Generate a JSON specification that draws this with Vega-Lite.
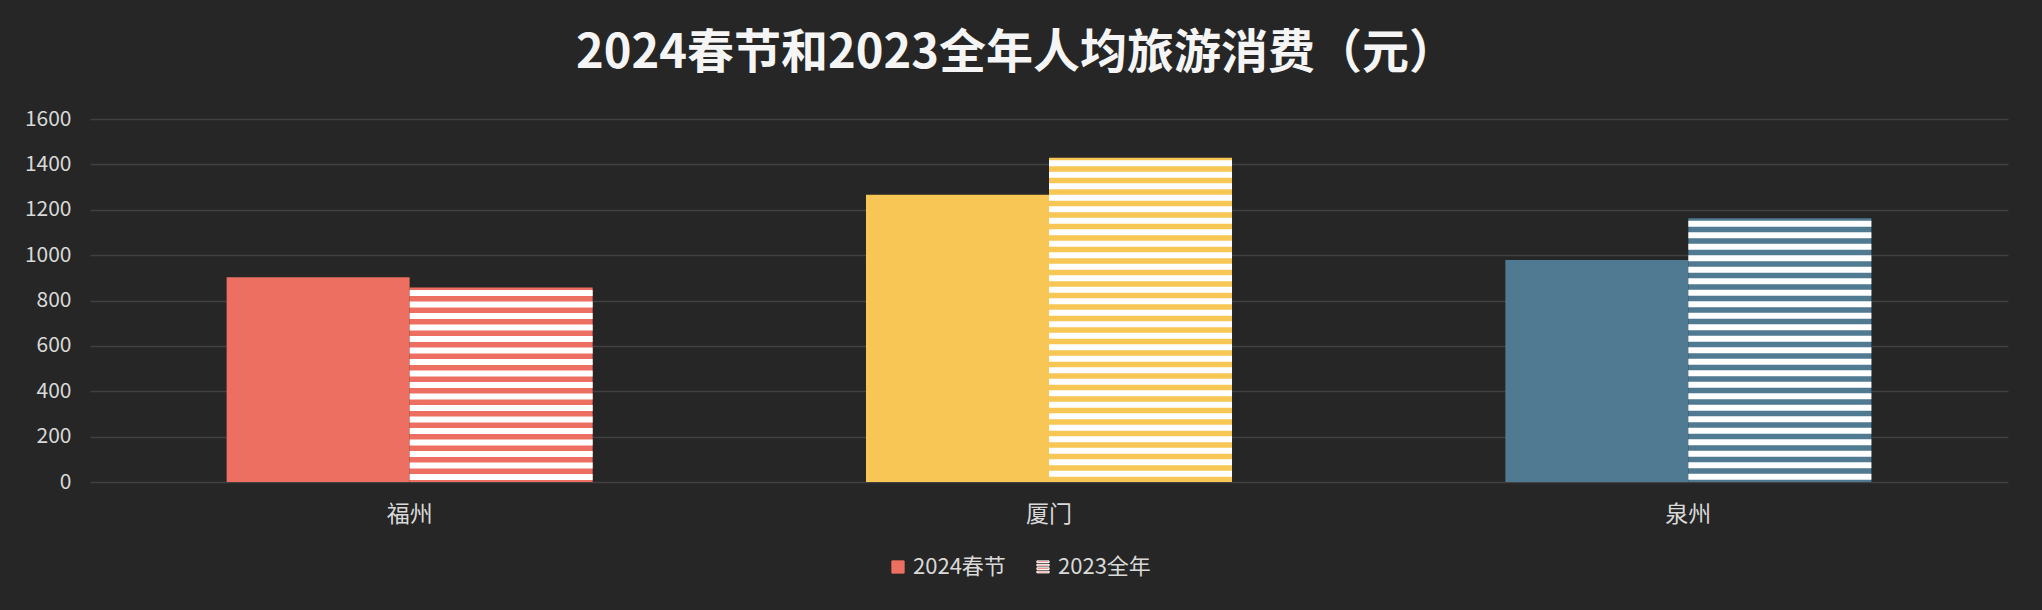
{
  "$schema": "https://vega.github.io/schema/vega-lite/v6.json",
  "autosize": "none",
  "width": 1918,
  "height": 363,
  "padding": {"left": 90, "top": 119, "right": 34, "bottom": 128},
  "background": "#262626",
  "title": {
    "text": "2024春节和2023全年人均旅游消费（元）",
    "font": "Noto Sans CJK SC",
    "fontSize": 47,
    "fontWeight": "bold",
    "color": "#f5f5f5",
    "anchor": "middle",
    "dx": -33,
    "dy": 58,
    "offset": 46
  },
  "data": {
    "values": [
      {"city": "福州", "series": "2024春节", "value": 903},
      {"city": "福州", "series": "2023全年", "value": 857},
      {"city": "厦门", "series": "2024春节", "value": 1266},
      {"city": "厦门", "series": "2023全年", "value": 1429},
      {"city": "泉州", "series": "2024春节", "value": 978},
      {"city": "泉州", "series": "2023全年", "value": 1163}
    ]
  },
  "encoding": {
    "x": {
      "field": "city",
      "type": "nominal",
      "sort": ["福州", "厦门", "泉州"],
      "scale": {"paddingInner": 0.4275, "paddingOuter": 0.2137},
      "axis": {
        "title": null,
        "domain": false,
        "ticks": false,
        "grid": false,
        "labelAngle": 0,
        "labelFont": "Noto Sans CJK SC",
        "labelFontSize": 23,
        "labelColor": "#d9d9d9",
        "labelPadding": 21
      }
    },
    "xOffset": {"field": "series", "type": "nominal", "sort": ["2024春节", "2023全年"]},
    "y": {
      "field": "value",
      "type": "quantitative",
      "scale": {"domain": [0, 1600], "nice": false},
      "axis": {
        "title": null,
        "domain": false,
        "ticks": false,
        "format": "d",
        "values": [0, 200, 400, 600, 800, 1000, 1200, 1400, 1600],
        "grid": true,
        "gridColor": "#404040",
        "gridWidth": 1.6,
        "labelFont": "Noto Sans CJK SC",
        "labelFontSize": 21,
        "labelColor": "#d9d9d9",
        "labelPadding": 19
      }
    }
  },
  "layer": [
    {
      "mark": {"type": "bar"},
      "encoding": {
        "color": {
          "field": "city",
          "type": "nominal",
          "scale": {"domain": ["福州", "厦门", "泉州"], "range": ["#EC6F61", "#F7C655", "#4F7A91"]},
          "legend": null
        }
      }
    },
    {
      "transform": [{"filter": "datum.series === '2023全年'"}],
      "mark": {"type": "rule", "strokeWidth": 183, "strokeDash": [6, 5.5], "strokeDashOffset": 9, "color": "#ffffff", "strokeCap": "butt"},
      "encoding": {
        "y2": {"datum": 0}
      }
    },
    {
      "mark": {"type": "point", "opacity": 0, "strokeWidth": 1},
      "encoding": {
        "fill": {
          "field": "series",
          "type": "nominal",
          "sort": ["2024春节", "2023全年"],
          "scale": {"domain": ["2024春节", "2023全年"], "range": ["#EC6F61", "#EC6F61"]},
          "legend": {
            "title": null,
            "orient": "none",
            "legendX": 797,
            "legendY": 437,
            "direction": "horizontal",
            "columns": 2,
            "columnPadding": 26,
            "labelFont": "Noto Sans CJK SC",
            "labelFontSize": 22,
            "labelColor": "#d9d9d9",
            "labelOffset": 4,
            "symbolSize": 150,
            "symbolOpacity": 1,
            "symbolStrokeWidth": 1
          }
        },
        "shape": {
          "field": "series",
          "type": "nominal",
          "sort": ["2024春节", "2023全年"],
          "scale": {"domain": ["2024春节", "2023全年"], "range": ["square", "M-1,-1H1V-0.72H-1Z M-1,-0.44H1V-0.16H-1Z M-1,0.12H1V0.4H-1Z M-1,0.68H1V0.96H-1Z"]},
          "legend": {
            "title": null,
            "orient": "none",
            "legendX": 797,
            "legendY": 437,
            "direction": "horizontal",
            "columns": 2,
            "columnPadding": 26,
            "labelFont": "Noto Sans CJK SC",
            "labelFontSize": 22,
            "labelColor": "#d9d9d9",
            "labelOffset": 4,
            "symbolSize": 150,
            "symbolOpacity": 1,
            "symbolStrokeWidth": 1
          }
        },
        "stroke": {
          "field": "series",
          "type": "nominal",
          "sort": ["2024春节", "2023全年"],
          "scale": {"domain": ["2024春节", "2023全年"], "range": ["#EC6F61", "#ffffff"]},
          "legend": {
            "title": null,
            "orient": "none",
            "legendX": 797,
            "legendY": 437,
            "direction": "horizontal",
            "columns": 2,
            "columnPadding": 26,
            "labelFont": "Noto Sans CJK SC",
            "labelFontSize": 22,
            "labelColor": "#d9d9d9",
            "labelOffset": 4,
            "symbolSize": 150,
            "symbolOpacity": 1,
            "symbolStrokeWidth": 1
          }
        }
      }
    }
  ],
  "config": {
    "view": {"stroke": null},
    "font": "Noto Sans CJK SC"
  }
}
